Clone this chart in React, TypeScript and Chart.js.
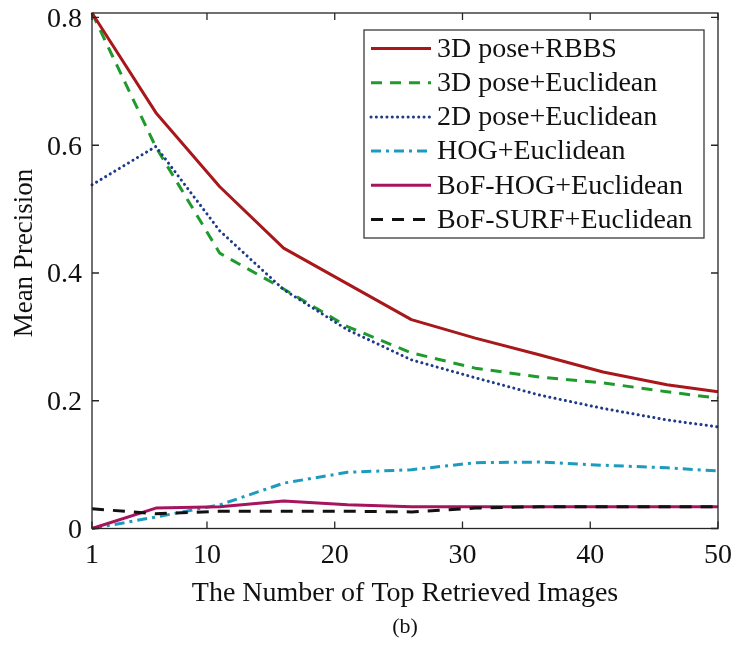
import React, { useEffect, useRef } from "react";
import { Chart, registerables } from "chart.js";

Chart.register(...registerables);

// Retrieval depth (number of top images) at which precision was sampled
const topK = [1, 6, 11, 16, 21, 26, 31, 36, 41, 46, 50];

// Mean precision per method
const pose3dRbbs = [0.807, 0.651, 0.535, 0.439, 0.383, 0.327, 0.298, 0.272, 0.245, 0.225, 0.214];
const pose3dEuclidean = [0.807, 0.597, 0.431, 0.375, 0.316, 0.275, 0.251, 0.237, 0.228, 0.214, 0.204];
const pose2dEuclidean = [0.538, 0.598, 0.466, 0.374, 0.311, 0.264, 0.236, 0.209, 0.188, 0.17, 0.159];
const hogEuclidean = [0, 0.018, 0.037, 0.071, 0.088, 0.092, 0.103, 0.104, 0.099, 0.095, 0.09];
const bofHogEuclidean = [0, 0.032, 0.034, 0.043, 0.037, 0.034, 0.034, 0.034, 0.034, 0.034, 0.034];
const bofSurfEuclidean = [0.031, 0.023, 0.027, 0.027, 0.027, 0.026, 0.032, 0.034, 0.034, 0.034, 0.034];

const seriesLabels = [
  "3D pose+RBBS",
  "3D pose+Euclidean",
  "2D pose+Euclidean",
  "HOG+Euclidean",
  "BoF-HOG+Euclidean",
  "BoF-SURF+Euclidean",
];

const xTickValues = [1, 10, 20, 30, 40, 50];
const yTickValues = [0, 0.2, 0.4, 0.6, 0.8];

const xTitle = "The Number of Top Retrieved Images";
const yTitle = "Mean Precision";
const subCaption = "(b)";

const FONT = "'Liberation Serif', 'Times New Roman', serif";
const FRAME = "#262626";

const toPoints = (ys: number[]) => topK.map((x, i) => ({ x, y: ys[i] }));

const lineStyles = [
  { color: "#A8181B", dash: [] as number[], width: 3, cap: "butt" },
  { color: "#1F9A2C", dash: [11, 8], width: 3, cap: "butt" },
  { color: "#1E3A8A", dash: [0.1, 5.2], width: 3, cap: "round" },
  { color: "#1C9BBE", dash: [10, 5, 3, 5], width: 3, cap: "butt" },
  { color: "#A6145E", dash: [] as number[], width: 3, cap: "butt" },
  { color: "#111111", dash: [12, 9], width: 3, cap: "butt" },
];

const seriesValues = [
  pose3dRbbs,
  pose3dEuclidean,
  pose2dEuclidean,
  hogEuclidean,
  bofHogEuclidean,
  bofSurfEuclidean,
];

const drawOrder = [0, 2, 1, 3, 2, -1];

// Axis boxes are sized by hand, so drop the automatic edge-label padding
const fixAxisBox = (size: { width?: number; height?: number }) => (scale: any) => {
  if (size.width !== undefined) scale.width = size.width;
  if (size.height !== undefined) scale.height = size.height;
  scale.paddingTop = 0;
  scale.paddingBottom = 0;
  scale.paddingLeft = 0;
  scale.paddingRight = 0;
};

// Box around the plot plus inward-pointing tick marks on all four sides
const framePlugin = {
  id: "frameTicks",
  afterDatasetsDraw(chart: any) {
    const { ctx, chartArea: a, scales } = chart;
    const len = 7;
    ctx.save();
    ctx.strokeStyle = FRAME;
    ctx.lineWidth = 1.3;
    ctx.strokeRect(a.left, a.top, a.right - a.left, a.bottom - a.top);
    ctx.beginPath();
    for (const v of xTickValues) {
      const px = scales.x.getPixelForValue(v);
      ctx.moveTo(px, a.bottom);
      ctx.lineTo(px, a.bottom - len);
      ctx.moveTo(px, a.top);
      ctx.lineTo(px, a.top + len);
    }
    for (const v of yTickValues) {
      const py = scales.y.getPixelForValue(v);
      ctx.moveTo(a.left, py);
      ctx.lineTo(a.left + len, py);
      ctx.moveTo(a.right, py);
      ctx.lineTo(a.right - len, py);
    }
    ctx.stroke();
    ctx.restore();
  },
};

// Boxed legend in the upper right, y-axis title and sub-caption
const annotatePlugin = {
  id: "annotate",
  afterDraw(chart: any) {
    const { ctx } = chart;
    ctx.save();

    // legend box
    const bx = 364, by = 30, bw = 340, bh = 208;
    ctx.fillStyle = "#ffffff";
    ctx.fillRect(bx, by, bw, bh);
    ctx.strokeStyle = "#3a3a3a";
    ctx.lineWidth = 1.3;
    ctx.strokeRect(bx, by, bw, bh);

    ctx.font = `28px ${FONT}`;
    ctx.textAlign = "left";
    ctx.textBaseline = "middle";
    chart.data.datasets.forEach((ds: any, i: number) => {
      const y = 48.5 + i * 34.2;
      ctx.save();
      ctx.strokeStyle = ds.borderColor;
      ctx.lineWidth = ds.borderWidth;
      ctx.lineCap = ds.borderCapStyle;
      ctx.setLineDash(ds.borderDash);
      ctx.beginPath();
      ctx.moveTo(371, y);
      ctx.lineTo(431, y);
      ctx.stroke();
      ctx.restore();
      ctx.fillStyle = "#111111";
      ctx.fillText(ds.label, 437, y + 1);
    });

    // y-axis title
    ctx.save();
    ctx.translate(25, 253);
    ctx.rotate(-Math.PI / 2);
    ctx.textAlign = "center";
    ctx.textBaseline = "middle";
    ctx.fillStyle = "#111111";
    ctx.font = `27px ${FONT}`;
    ctx.fillText(yTitle, 0, 0);
    ctx.restore();

    // sub-caption
    ctx.textAlign = "center";
    ctx.textBaseline = "middle";
    ctx.fillStyle = "#111111";
    ctx.font = `22px ${FONT}`;
    ctx.fillText(subCaption, 405, 627);

    ctx.restore();
  },
};

export default function App() {
  const canvasRef = useRef<HTMLCanvasElement | null>(null);

  useEffect(() => {
    const canvas = canvasRef.current;
    if (!canvas) return;

    const datasets = seriesValues.map((vals, i) => ({
      label: seriesLabels[i],
      data: toPoints(vals),
      borderColor: lineStyles[i].color,
      backgroundColor: lineStyles[i].color,
      borderWidth: lineStyles[i].width,
      borderDash: lineStyles[i].dash,
      borderCapStyle: lineStyles[i].cap,
      borderJoinStyle: "round",
      pointRadius: 0,
      pointHoverRadius: 0,
      tension: 0,
      fill: false,
      order: drawOrder[i],
      clip: 3,
    }));

    const chart = new Chart(canvas, {
      type: "line",
      data: { datasets } as any,
      options: {
        responsive: false,
        animation: false,
        events: [],
        layout: { padding: { top: 13, right: 15, bottom: 0, left: 0 } },
        plugins: {
          legend: { display: false },
          tooltip: { enabled: false },
        },
        scales: {
          x: {
            type: "linear",
            min: 1,
            max: 50,
            grid: { display: false, drawTicks: false },
            border: { display: false },
            afterBuildTicks: (scale: any) => {
              scale.ticks = xTickValues.map((v) => ({ value: v }));
            },
            afterFit: fixAxisBox({ height: 117.5 }),
            ticks: {
              autoSkip: false,
              maxRotation: 0,
              padding: 10,
              color: "#111111",
              font: { family: FONT, size: 28, lineHeight: 1.2 },
              callback: (v: any) => String(v),
            },
            title: {
              display: true,
              text: xTitle,
              color: "#111111",
              font: { family: FONT, size: 28, lineHeight: 1.2 },
              padding: { top: 0, bottom: 36 },
            },
          },
          y: {
            type: "linear",
            min: 0,
            max: 0.807,
            grid: { display: false, drawTicks: false },
            border: { display: false },
            afterBuildTicks: (scale: any) => {
              scale.ticks = yTickValues.map((v) => ({ value: v }));
            },
            afterFit: fixAxisBox({ width: 92 }),
            ticks: {
              autoSkip: false,
              padding: 10,
              labelOffset: 2,
              color: "#111111",
              font: { family: FONT, size: 28, lineHeight: 1 },
              callback: (v: any) => (v === 0 ? "0" : Number(v).toFixed(1)),
            },
          },
        },
      },
      plugins: [framePlugin, annotatePlugin],
    } as any);

    return () => chart.destroy();
  }, []);

  return (
    <div style={{ position: "absolute", left: 0, top: 0, width: 733, height: 646, background: "#ffffff" }}>
      <canvas ref={canvasRef} width={733} height={646} />
    </div>
  );
}
